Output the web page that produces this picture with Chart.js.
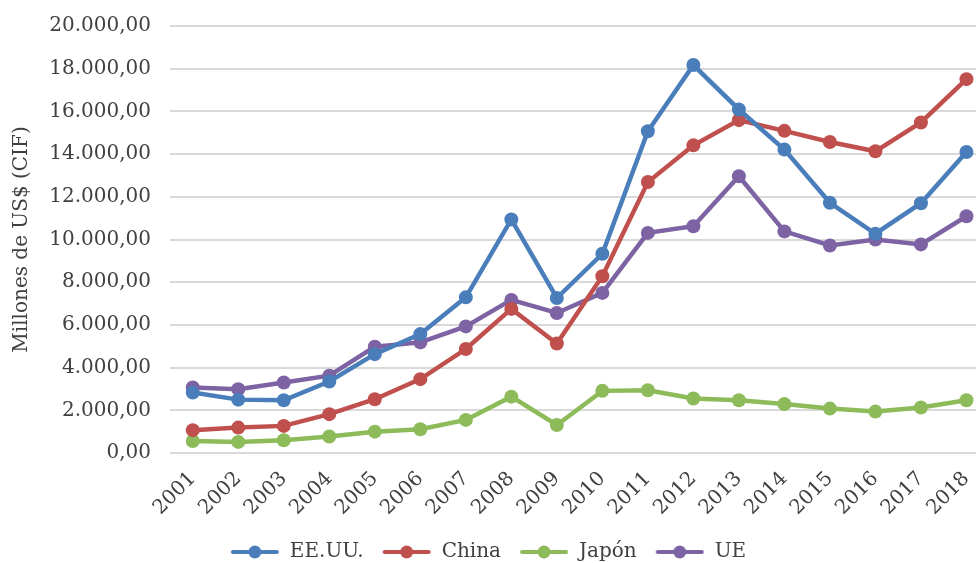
<!DOCTYPE html>
<html>
<head>
<meta charset="utf-8">
<script src="https://cdn.jsdelivr.net/npm/chart.js@4"></script>
<style>
  html, body { margin: 0; padding: 0; background: #ffffff; }
  #wrap { width: 976px; height: 563px; position: relative; }
</style>
</head>
<body>
<div id="wrap"><canvas id="c"></canvas></div>
<script>
const years = [2001,2002,2003,2004,2005,2006,2007,2008,2009,2010,2011,2012,2013,2014,2015,2016,2017,2018];
const eeuu  = [2830,2500,2470,3350,4630,5570,7290,10940,7260,9330,15070,18170,16090,14210,11720,10270,11700,14100];
const china = [1070,1190,1270,1820,2520,3460,4870,6750,5130,8280,12690,14410,15590,15090,14570,14130,15480,17510];
const japon = [560,520,600,770,1000,1110,1550,2640,1310,2910,2940,2550,2470,2290,2080,1940,2130,2470];
const ue    = [3070,2990,3300,3620,4980,5180,5930,7170,6560,7500,10310,10620,12960,10380,9720,10000,9770,11090];
const seriesNames = ['EE.UU.', 'China', 'Japón', 'UE'];
const seriesColors = ['#4A7EBB', '#C0504D', '#8DBB5A', '#7D63A3'];
const yTicks = [0,2000,4000,6000,8000,10000,12000,14000,16000,18000,20000];

const FONT = "'DejaVu Serif', serif";
const TEXT = '#404040';

function fmt(v) {
  const s = Math.round(v).toString().replace(/\B(?=(\d{3})+(?!\d))/g, '.');
  return s + ',00';
}

function legendMarker(color) {
  const c = document.createElement('canvas');
  c.width = 50; c.height = 16;
  const g = c.getContext('2d');
  g.strokeStyle = color; g.lineWidth = 4; g.lineCap = 'round';
  g.beginPath(); g.moveTo(3, 8); g.lineTo(47, 8); g.stroke();
  g.fillStyle = color;
  g.beginPath(); g.arc(25, 8, 6.5, 0, Math.PI * 2); g.fill();
  return c;
}

const allSeries = [eeuu, china, japon, ue];
const datasets = allSeries.map((arr, i) => ({
  label: seriesNames[i],
  data: arr.map((v, k) => ({ x: years[k], y: v })),
  borderColor: seriesColors[i],
  backgroundColor: seriesColors[i],
  borderWidth: 4.5,
  pointRadius: 7,
  pointHoverRadius: 7,
  pointBorderWidth: 0,
  tension: 0,
  fill: false,
  clip: false
}));

const markers = seriesColors.map(legendMarker);

new Chart(document.getElementById('c'), {
  type: 'line',
  data: { datasets },
  options: {
    responsive: true,
    maintainAspectRatio: false,
    animation: false,
    layout: { autoPadding: false, padding: { top: 26, right: 0, bottom: -9, left: 0 } },
    plugins: {
      tooltip: { enabled: false },
      legend: {
        position: 'bottom',
        labels: {
          font: { family: FONT, size: 20 },
          color: TEXT,
          usePointStyle: true,
          pointStyleWidth: 50,
          padding: 18,
          generateLabels(chart) {
            return chart.data.datasets.map((ds, i) => ({
              text: ds.label,
              fillStyle: ds.backgroundColor,
              strokeStyle: ds.borderColor,
              lineWidth: 0,
              pointStyle: markers[i],
              hidden: false,
              datasetIndex: i,
              fontColor: TEXT
            }));
          }
        }
      }
    },
    scales: {
      x: {
        type: 'linear',
        min: 2000.5,
        max: 2018.21,
        afterBuildTicks(scale) { scale.ticks = years.map(y => ({ value: y })); },
        afterFit(scale) { scale.paddingRight = 0; scale.height = 71; },
        ticks: {
          autoSkip: false,
          minRotation: 45,
          maxRotation: 45,
          padding: 14,
          font: { family: FONT, size: 20 },
          color: TEXT,
          callback: v => String(v)
        },
        grid: { display: false, drawTicks: false },
        border: { display: false }
      },
      y: {
        min: 0,
        max: 20000,
        afterBuildTicks(scale) { scale.ticks = yTicks.map(v => ({ value: v })); },
        afterFit(scale) { scale.width = 170; scale.paddingTop = 0; scale.paddingBottom = 0; },
        ticks: {
          padding: 19,
          font: { family: FONT, size: 20 },
          color: TEXT,
          callback: v => fmt(v)
        },
        grid: { color: '#D9D9D9', lineWidth: 2, drawTicks: false },
        border: { display: false },
        title: {
          display: true,
          text: 'Millones de US$ (CIF)',
          font: { family: FONT, size: 20 },
          color: TEXT,
          padding: { top: 10, bottom: 0 }
        }
      }
    }
  }
});
</script>
</body>
</html>
